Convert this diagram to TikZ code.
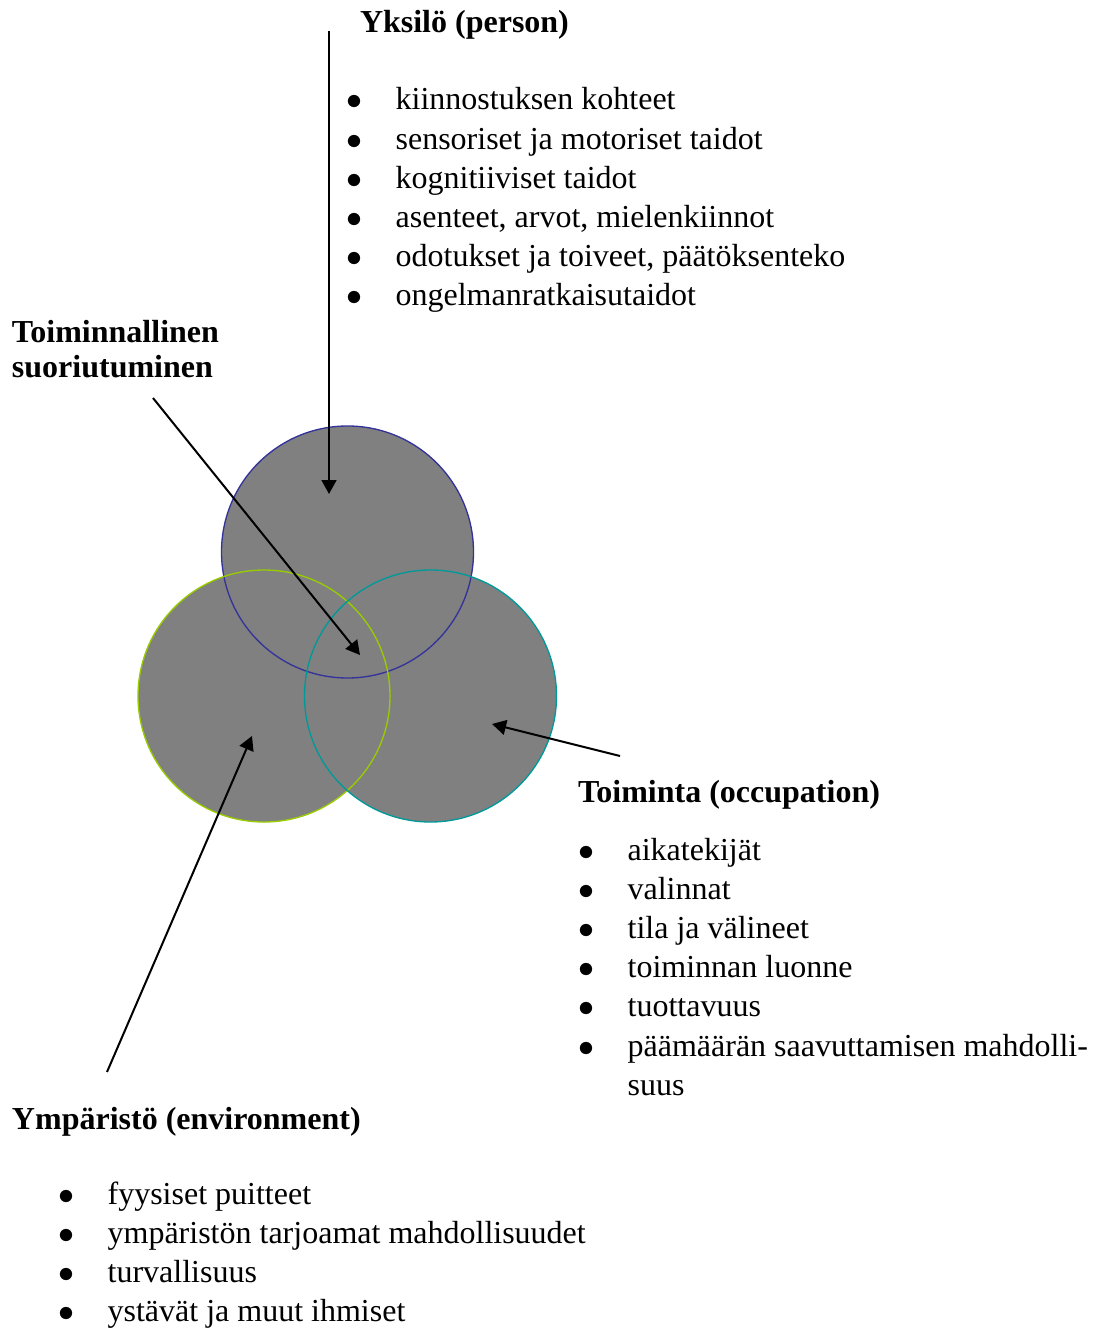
\documentclass[tikz,border=0pt]{standalone}
\usepackage{fontspec}
\setmainfont{Liberation Serif}
\usetikzlibrary{arrows.meta}

\definecolor{yksline}{HTML}{333399}
\definecolor{ympline}{HTML}{99CC00}
\definecolor{toimline}{HTML}{009999}
\definecolor{venngray}{HTML}{808080}

\newcommand{\bul}{\makebox[17.3pt][l]{\hspace{-1pt}$\bullet$}}

\tikzset{every picture/.style={line width=0.75pt}}
\tikzset{
  venn/.style={circle, minimum size=94.5pt, inner sep=0pt, line width=0.5pt},
  head/.style={anchor=base west, inner sep=0pt, font=\fontsize{12}{14.7}\selectfont\bfseries},
  itemlist/.style={anchor=base west, inner sep=0pt, font=\fontsize{12}{14.7}\selectfont},
  pointer/.style={-{Triangle[length=5.25pt,width=5.6pt]}, line width=0.75pt}
}

\begin{document}
\begin{tikzpicture}[x=0.375pt,y=0.375pt,yscale=-1,xscale=1]
    \useasboundingbox (0,0) rectangle (1096,1329);
    % Circle centres
    \coordinate (cYks) at (347.5,552);
    \coordinate (cYmp) at (264,696);
    \coordinate (cToim) at (430.5,696);
    % Circle fills
    \fill[venngray] (cYks) circle [radius=126];
    \fill[venngray] (cYmp) circle [radius=126];
    \fill[venngray] (cToim) circle [radius=126];
    % Circle outlines
    \node[venn, draw=yksline] (yks) at (cYks) {};
    \node[venn, draw=ympline] (ymp) at (cYmp) {};
    \node[venn, draw=toimline] (toim) at (cToim) {};
    % Text Node
    \node[head] (yksHead) at (359,33) {Yksilö (person)};
    % Text Node
    \node[itemlist] (yksList) at (348.5,110) {\begin{tabular}[t]{@{}l@{}}
    \bul kiinnostuksen kohteet\\
    \bul sensoriset ja motoriset taidot\\
    \bul kognitiiviset taidot\\
    \bul asenteet, arvot, mielenkiinnot\\
    \bul odotukset ja toiveet, päätöksenteko\\
    \bul ongelmanratkaisutaidot
    \end{tabular}};
    % Text Node
    \node[head] (suoHead) at (11,343) {\begin{tabular}[t]{@{}l@{}}
    Toiminnallinen\\[-1.6pt]
    suoriutuminen
    \end{tabular}};
    % Text Node
    \node[head] (toimHead) at (577,802) {Toiminta (occupation)};
    % Text Node
    \node[itemlist] (toimList) at (580.5,860) {\begin{tabular}[t]{@{}l@{}}
    \bul aikatekijät\\
    \bul valinnat\\
    \bul tila ja välineet\\
    \bul toiminnan luonne\\
    \bul tuottavuus\\
    \bul päämäärän saavuttamisen mahdolli-\\
    \hspace{17.3pt}suus
    \end{tabular}};
    % Text Node
    \node[head] (ympHead) at (11,1129) {Ympäristö (environment)};
    % Text Node
    \node[itemlist] (ympList) at (60.5,1204) {\begin{tabular}[t]{@{}l@{}}
    \bul fyysiset puitteet\\
    \bul ympäristön tarjoamat mahdollisuudet\\
    \bul turvallisuus\\
    \bul ystävät ja muut ihmiset
    \end{tabular}};
    % Arrow ends
    \coordinate (yksFrom) at (329,31);
    \coordinate (yksTo) at (329,494);
    \coordinate (suoFrom) at (153,398);
    \coordinate (suoTo) at (360,655);
    \coordinate (toimFrom) at (620,756);
    \coordinate (toimTo) at (492,724);
    \coordinate (ympFrom) at (107,1072);
    \coordinate (ympTo) at (252,736);
    % Connection
    \draw[pointer] (yksFrom) -- (yksTo);
    % Connection
    \draw[pointer] (suoFrom) -- (suoTo);
    % Connection
    \draw[pointer] (toimFrom) -- (toimTo);
    % Connection
    \draw[pointer] (ympFrom) -- (ympTo);
\end{tikzpicture}
\end{document}
